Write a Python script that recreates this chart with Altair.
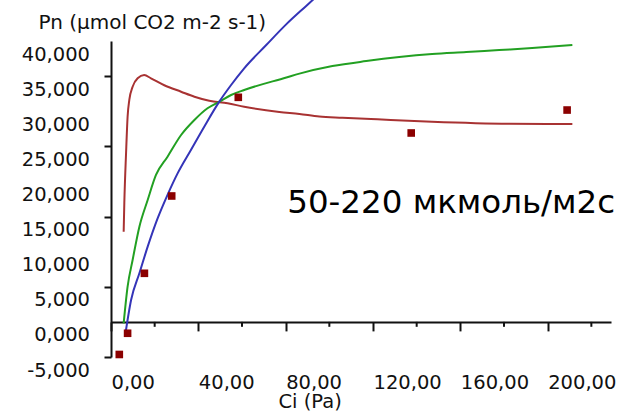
import altair as alt
import pandas as pd

# ---------------- data ----------------
red_ci = [5.8, 6.1, 6.9, 7.6, 8.4, 9.9, 12.2, 15.2, 18.3, 24.4, 32.1, 38.2, 45.0, 53.4, 61.0,
          77.1, 86.3, 95.4, 106.0, 122.0, 147.0, 182.4, 211.3]
red_pn = [12850, 16930, 24050, 29220, 31640, 33490, 34690, 35150, 34690, 33700, 32780, 32070,
          31500, 31130, 30640, 29900, 29610, 29250, 29080, 28850, 28510, 28220, 28180]

green_ci = [5.8, 7.6, 9.9, 13.0, 16.8, 20.6, 25.9, 32.1, 38.2, 44.2, 49.6, 55.0, 61.0, 80.3,
            86.3, 101.4, 116.9, 132.0, 147.1, 162.7, 177.8, 192.9, 211.3]
green_pn = [-200, 5010, 8810, 13560, 17360, 20920, 23520, 26610, 28750, 30420, 31360, 32310,
            33020, 34800, 35350, 36430, 37140, 37710, 38140, 38420, 38710, 38990, 39420]

blue_ci = [6.5, 9.2, 13.0, 16.8, 21.3, 25.9, 30.5, 36.6, 42.7, 49.6, 55.0, 61.0, 71.1, 80.0, 89.4, 94.0]
blue_pn = [-1900, 3120, 6920, 10710, 14700, 18100, 21150, 24480, 27800, 31360, 33730, 36110,
           39430, 42300, 45000, 46300]

point_ci = [3.8, 7.6, 15.3, 27.8, 58.3, 137.5, 208.9]
point_pn = [-4640, -1620, 6920, 17930, 31980, 26900, 30170]

series_names = ["red", "green", "blue"]
series_colors = ["#a83232", "#22a022", "#3434b8"]

x_major = [0, 40, 80, 120, 160, 200]
x_minor = [20, 60, 100, 140, 180, 220]
y_ticks = [-5000, 0, 5000, 10000, 15000, 20000, 25000, 30000, 35000, 40000]
y_labels = [("-" if v < 0 else "") + f"{abs(v) / 1000:.3f}".replace(".", ",") for v in y_ticks]

note_text = ["50-220 мкмоль/м2с"]
note_ci = [80.7]
note_pn = [15450]

# ---------------- tables ----------------
lines = pd.concat([
    pd.DataFrame({"ci": red_ci, "pn": red_pn, "series": "red"}),
    pd.DataFrame({"ci": green_ci, "pn": green_pn, "series": "green"}),
    pd.DataFrame({"ci": blue_ci, "pn": blue_pn, "series": "blue"}),
], ignore_index=True)
points = pd.DataFrame({"ci": point_ci, "pn": point_pn})
minor = pd.DataFrame({"ci": x_minor})
ylab = pd.DataFrame({"pn": y_ticks, "label": y_labels})
note = pd.DataFrame({"ci": note_ci, "pn": note_pn, "label": note_text})

FONT = "DejaVu Sans"
INK = "#111111"
FS = 19.5

x_scale = alt.Scale(domain=[0, 229], nice=False, zero=False)
y_scale = alt.Scale(domain=[-5000, 40000], nice=False, zero=False)

x_axis = alt.Axis(
    values=x_major, title="Ci (Pa)",
    labelExpr="replace(format(datum.value, '.2f'), '.', ',')",
    grid=False, tickSize=9, tickWidth=2, tickColor=INK,
    domainColor=INK, domainWidth=2,
    labelAlign="left", labelBaseline="top", labelPadding=43,
    labelFont=FONT, labelFontSize=FS, labelColor=INK,
    labelFlush=False, labelOverlap=False,
    offset=-35.1,
    titleFont=FONT, titleFontSize=FS, titleFontWeight="normal", titleColor=INK,
    titleX=167, titleY=86, titleAlign="left", titleBaseline="alphabetic",
)

y_axis = alt.Axis(
    values=y_ticks, title="Pn (µmol CO2 m-2 s-1)", labels=False,
    grid=False, tickSize=7, tickWidth=2, tickColor=INK,
    domainColor=INK, domainWidth=2,
    titleFont=FONT, titleFontSize=20, titleFontWeight="normal", titleColor=INK,
    titleAngle=0, titleX=-73, titleY=-13, titleAlign="left", titleBaseline="alphabetic",
)

line_layer = alt.Chart(lines).mark_line(strokeWidth=2, interpolate="monotone").encode(
    x=alt.X("ci:Q", scale=x_scale, axis=x_axis),
    y=alt.Y("pn:Q", scale=y_scale, axis=y_axis),
    color=alt.Color("series:N", scale=alt.Scale(domain=series_names, range=series_colors), legend=None),
)

point_layer = alt.Chart(points).mark_square(size=58, color="#8b0000", opacity=1).encode(
    x=alt.X("ci:Q"),
    y=alt.Y("pn:Q"),
)

minor_layer = alt.Chart(minor).mark_rule(color=INK, strokeWidth=2).encode(
    x=alt.X("ci:Q"),
    y=alt.datum(0),
    y2=alt.datum(-700),
)

ylab_layer = alt.Chart(ylab).mark_text(
    align="right", baseline="middle", dy=13.5, font=FONT, fontSize=FS, color=INK
).encode(
    x=alt.value(-21),
    y=alt.Y("pn:Q"),
    text="label:N",
)

note_layer = alt.Chart(note).mark_text(
    align="left", baseline="alphabetic", font=FONT, fontSize=32.5, color="#000000"
).encode(
    x=alt.X("ci:Q"),
    y=alt.Y("pn:Q"),
    text="label:N",
)

chart = alt.layer(line_layer, point_layer, minor_layer, ylab_layer, note_layer).properties(
    width=500, height=316,
    padding={"left": 111, "top": 41, "right": 20, "bottom": 59},
    autosize=alt.AutoSizeParams(type="none"),
    background="#ffffff",
).configure_view(stroke=None)

chart.save("out.html", embed_options={"renderer": "svg", "actions": False})
